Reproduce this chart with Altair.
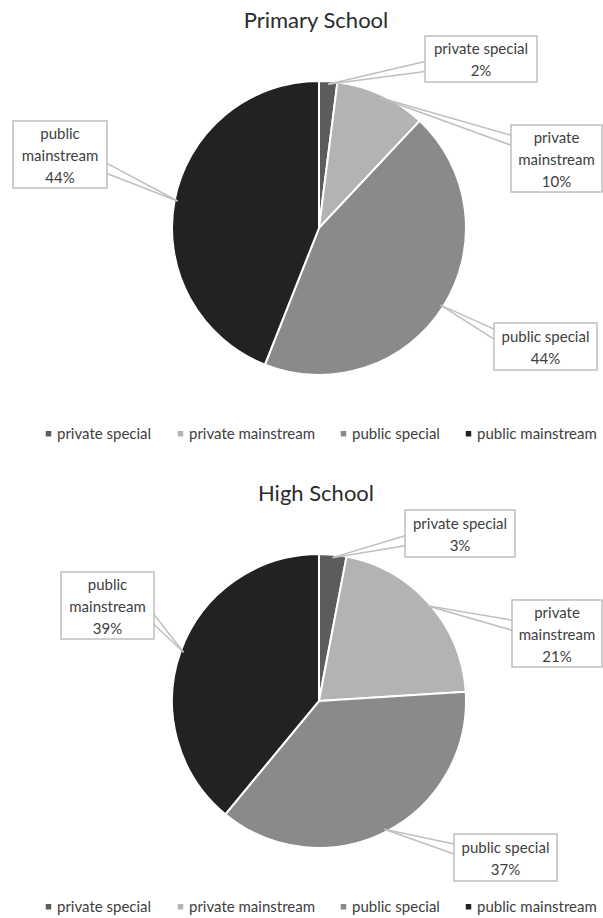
import math
import altair as alt
import pandas as pd

# ---------------- data ----------------
categories = ["private special", "private mainstream", "public special", "public mainstream"]
primary_pct = [2, 10, 44, 44]
high_pct = [3, 21, 37, 39]
titles = ["Primary School", "High School"]
label_words = [["private special"], ["private", "mainstream"], ["public special"], ["public", "mainstream"]]

# ---------------- style / layout ----------------
colors = ["#5c5c5c", "#b3b3b3", "#8a8a8a", "#222222"]
FONT = "Lato"
W = 603
PANEL_H = [473, 445]
CX, CY, R = 319, 228, 147
LINE_H = 22
# callout boxes (x0, x1, y0, y1) in panel pixels
box_layouts = [
    [(425, 537, 36, 82), (511, 602, 125, 192), (494, 597, 323, 370), (13, 107, 121, 188)],
    [(405, 515, 37, 84), (512, 602, 127, 194), (454, 557, 361, 408), (61, 154, 99, 166)],
]


def panel(title, values, boxes, height):
    df = pd.DataFrame({"category": categories, "value": values, "idx": list(range(len(values)))})
    total = float(sum(values))

    pie = alt.Chart(df).mark_arc(radius=R, stroke="white", strokeWidth=2).encode(
        theta=alt.Theta("value:Q", stack=True),
        color=alt.Color(
            "category:N",
            sort=categories,
            scale=alt.Scale(domain=categories, range=colors),
            legend=alt.Legend(
                orient="none", legendX=41, legendY=426, direction="horizontal",
                title=None, symbolType="square", symbolSize=30, symbolStrokeWidth=0,
                labelFont=FONT, labelFontSize=15, labelColor="#404040",
                labelOffset=1, columnPadding=21, padding=0,
            ),
        ),
        order=alt.Order("idx:Q"),
        x=alt.value(CX),
        y=alt.value(CY),
    )

    # boxes, labels and pointers
    box_rows, txt_rows, seg_rows = [], [], []
    cum = 0.0
    for cat, v, words, (x0, x1, y0, y1) in zip(categories, values, label_words, boxes):
        mid = (cum + v / 2.0) / total * 2 * math.pi
        cum += v
        tx = CX + (R - 3) * math.sin(mid)
        ty = CY - (R - 3) * math.cos(mid)
        bx = (x0 + x1) / 2.0
        by = (y0 + y1) / 2.0
        box_rows.append({"x": x0, "x2": x1, "y": y0, "y2": y1})
        lines = words + [f"{v}%"]
        n = len(lines)
        for i, line in enumerate(lines):
            txt_rows.append({"x": bx, "y": by + 1 + (i - (n - 1) / 2.0) * LINE_H, "t": line})
        ex = x0 if tx < x0 else x1
        cy_b = by + 0.3 * (ty - by)
        cy_b = max(y0 + 7, min(y1 - 7, cy_b))
        for dy in (-5, 5):
            seg_rows.append({"x": ex, "y": cy_b + dy, "x2": tx, "y2": ty})

    seg = alt.Chart(pd.DataFrame(seg_rows)).mark_rule(color="#bfbfbf", strokeWidth=1.5).encode(
        x=alt.X("x:Q", scale=None, axis=None), y=alt.Y("y:Q", scale=None, axis=None),
        x2="x2:Q", y2="y2:Q",
    )
    box = alt.Chart(pd.DataFrame(box_rows)).mark_rect(fill="white", stroke="#bfbfbf", strokeWidth=1.5).encode(
        x=alt.X("x:Q", scale=None, axis=None), y=alt.Y("y:Q", scale=None, axis=None),
        x2="x2:Q", y2="y2:Q",
    )
    txt = alt.Chart(pd.DataFrame(txt_rows)).mark_text(
        font=FONT, fontSize=15, color="#404040", align="center", baseline="middle",
    ).encode(
        x=alt.X("x:Q", scale=None, axis=None), y=alt.Y("y:Q", scale=None, axis=None), text="t:N",
    )
    ttl = alt.Chart(pd.DataFrame({"t": [title]})).mark_text(
        font=FONT, fontSize=22, color="#2b2b2b", align="center", baseline="middle",
    ).encode(x=alt.value(316), y=alt.value(21), text="t:N")

    return alt.layer(pie, seg, box, txt, ttl).properties(width=W, height=height)


p1 = panel(titles[0], primary_pct, box_layouts[0], PANEL_H[0])
p2 = panel(titles[1], high_pct, box_layouts[1], PANEL_H[1])

chart = (
    alt.vconcat(p1, p2, spacing=0)
    .resolve_scale(color="independent")
    .properties(padding=0)
    .configure_view(stroke=None)
)

chart.save("out.html", embed_options={"renderer": "svg", "actions": False})
